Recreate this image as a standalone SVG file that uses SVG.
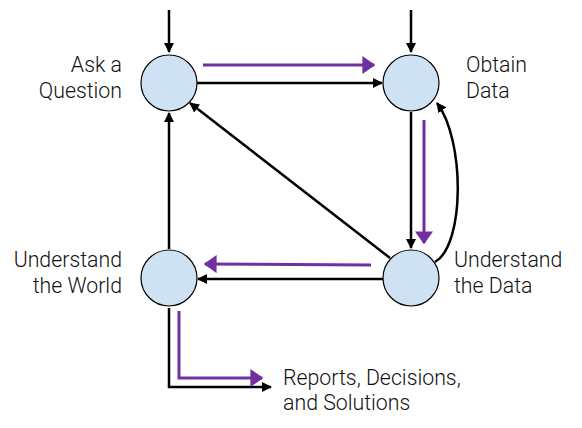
<svg xmlns="http://www.w3.org/2000/svg" width="582" height="428" viewBox="0 0 582 428">
<style>
.node{fill:#cfe2f3;stroke:#000;stroke-width:1.2}
.lbl{font-family:Roboto,"Liberation Sans",sans-serif;font-weight:300;font-size:21.3px;fill:#111}
.k{fill:none;stroke:#000;stroke-width:2.5}
.p{fill:none;stroke:#7030a0;stroke-width:3}
</style>
<defs>
<marker id="ak" viewBox="0 0 10 10" refX="9" refY="5" markerWidth="4" markerHeight="4" markerUnits="strokeWidth" orient="auto"><path d="M0,0L10,5L0,10Z" fill="#000"/></marker>
<marker id="ap" viewBox="0 0 10 10" refX="9" refY="5" markerWidth="4.3" markerHeight="6" markerUnits="strokeWidth" orient="auto" preserveAspectRatio="none"><path d="M0,0L10,5L0,10Z" fill="#7030a0"/></marker>
</defs>
<g id="connectors">
<line class="k" x1="169" y1="10" x2="169" y2="52" marker-end="url(#ak)"/>
<line class="k" x1="411" y1="10" x2="411" y2="52" marker-end="url(#ak)"/>
<line class="k" x1="197" y1="83" x2="382" y2="83" marker-end="url(#ak)"/>
<line class="k" x1="390" y1="258" x2="190" y2="103" marker-end="url(#ak)"/>
<line class="k" x1="411" y1="112" x2="411" y2="248" marker-end="url(#ak)"/>
<path class="k" d="M435,262 C465,245 465,140 437,103" marker-end="url(#ak)"/>
<line class="k" x1="383" y1="279" x2="198" y2="279" marker-end="url(#ak)"/>
<line class="k" x1="169" y1="249" x2="169" y2="113" marker-end="url(#ak)"/>
<polyline class="k" points="169,308 169,387 271,387" marker-end="url(#ak)"/>
<line class="p" x1="203" y1="65" x2="374" y2="65" marker-end="url(#ap)"/>
<line class="p" x1="424" y1="120" x2="424" y2="243" marker-end="url(#ap)"/>
<line class="p" x1="371" y1="265" x2="205" y2="264" marker-end="url(#ap)"/>
<polyline class="p" points="179,311 179,378 262,378" marker-end="url(#ap)"/>
</g>
<g id="ask"><circle class="node" cx="169" cy="83" r="28"/><text class="lbl" text-anchor="end" x="122" y="72">Ask a</text><text class="lbl" text-anchor="end" x="122" y="98">Question</text></g>
<g id="obtain"><circle class="node" cx="411" cy="83" r="28"/><text class="lbl" x="466" y="72">Obtain</text><text class="lbl" x="466" y="98">Data</text></g>
<g id="udata"><circle class="node" cx="411" cy="278" r="28"/><text class="lbl" x="454" y="267">Understand</text><text class="lbl" x="454" y="293">the Data</text></g>
<g id="uworld"><circle class="node" cx="169" cy="278" r="28"/><text class="lbl" text-anchor="end" x="122" y="267">Understand</text><text class="lbl" text-anchor="end" x="122" y="293">the World</text></g>
<g id="reports"><text class="lbl" x="283" y="385">Reports, Decisions,</text><text class="lbl" x="283" y="410">and Solutions</text></g>
</svg>
